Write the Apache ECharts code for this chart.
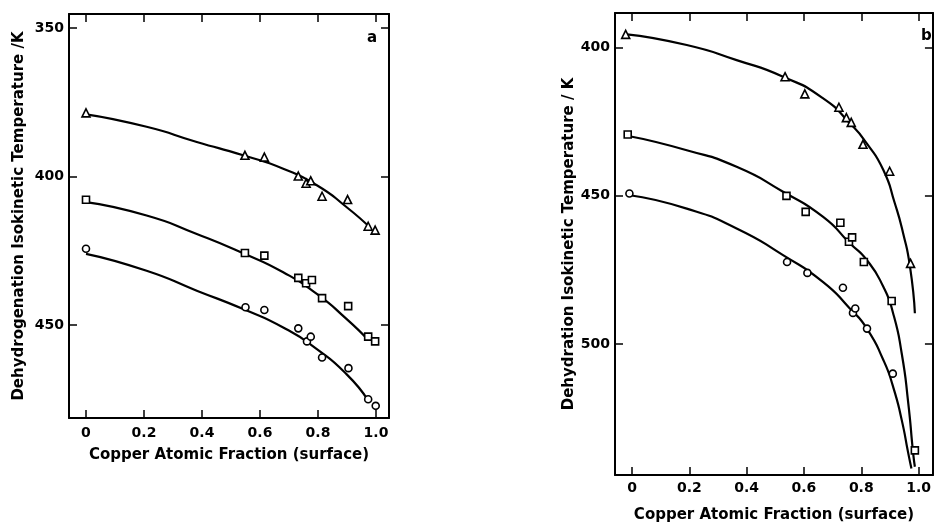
<!DOCTYPE html>
<html>
<head>
<meta charset="utf-8">
<script src="https://cdn.jsdelivr.net/npm/echarts@6/dist/echarts.min.js"></script>
<style>
  html, body { margin: 0; padding: 0; background: #fff; }
  #chartBox { width: 934px; height: 528px; }
</style>
</head>
<body>
<div id="chartBox"></div>
<script>
// tick values
const xTicks = [0, 0.2, 0.4, 0.6, 0.8, 1.0];
const yTicksA = [350, 400, 450];
const yTicksB = [400, 450, 500];

// panel a - dehydrogenation, measured points
const triAx = [0, 0.548, 0.615, 0.732, 0.759, 0.775, 0.814, 0.902, 0.973, 0.997];
const triAy = [378.5, 392.8, 393.4, 399.8, 402.2, 401.4, 406.6, 407.7, 416.7, 418.0];
const sqAx = [0, 0.548, 0.615, 0.732, 0.759, 0.779, 0.814, 0.904, 0.973, 0.997];
const sqAy = [407.8, 425.7, 426.6, 434.1, 435.9, 434.8, 440.9, 443.6, 453.9, 455.5];
const cirAx = [0, 0.55, 0.615, 0.732, 0.762, 0.775, 0.814, 0.905, 0.973, 0.999];
const cirAy = [424.3, 444.0, 444.9, 451.1, 455.5, 453.9, 460.9, 464.5, 475.0, 477.2];

// panel a - fitted curves
const fitTriAx = [0, 0.209, 0.382, 0.542, 0.680, 0.796, 0.899, 0.98];
const fitTriAy = [379.0, 383.2, 388.3, 392.8, 397.3, 402.9, 410.3, 417.2];
const fitSqAx = [0, 0.209, 0.382, 0.542, 0.680, 0.796, 0.899, 0.97];
const fitSqAy = [408.6, 413.1, 419.3, 425.8, 432.2, 439.5, 448.0, 454.7];
const fitCirAx = [0, 0.209, 0.382, 0.542, 0.680, 0.796, 0.899, 0.97];
const fitCirAy = [426.0, 431.7, 438.4, 444.6, 450.8, 458.1, 466.6, 475.0];

// panel b - dehydration, measured points
const triBx = [-0.022, 0.534, 0.603, 0.722, 0.748, 0.765, 0.806, 0.899, 0.972];
const triBy = [395.5, 409.8, 415.6, 420.1, 423.6, 425.2, 432.6, 441.7, 472.8];
const sqBx = [-0.015, 0.539, 0.606, 0.727, 0.757, 0.768, 0.809, 0.906, 0.987];
const sqBy = [429.3, 450.0, 455.4, 459.1, 465.5, 464.0, 472.3, 485.5, 535.9];
const cirBx = [-0.009, 0.541, 0.612, 0.736, 0.771, 0.779, 0.82, 0.91];
const cirBy = [449.2, 472.3, 476.0, 481.0, 489.5, 488.0, 494.8, 510.0];

// panel b - fitted curves
const fitTriBx = [-0.018, 0.191, 0.365, 0.527, 0.667, 0.760, 0.819, 0.877, 0.917, 0.946, 0.970, 0.987];
const fitTriBy = [395.5, 399.1, 404.2, 409.8, 417.1, 425.5, 432.3, 441.3, 452.5, 462.6, 473.9, 489.6];
const fitSqBx = [-0.013, 0.191, 0.365, 0.527, 0.667, 0.760, 0.819, 0.877, 0.911, 0.941, 0.964, 0.981, 0.987];
const fitSqBy = [429.8, 434.6, 440.2, 448.6, 457.1, 466.0, 471.6, 480.7, 489.6, 503.1, 520.0, 536.9, 541.4];
const fitCirBx = [-0.007, 0.191, 0.365, 0.527, 0.667, 0.760, 0.819, 0.877, 0.911, 0.941, 0.964, 0.975];
const fitCirBy = [449.8, 454.3, 461.0, 470.0, 479.1, 488.0, 494.7, 505.4, 514.4, 525.6, 536.9, 542.0];

function zip(xs, ys) {
  return xs.map((x, i) => [x, ys[i]]);
}

const font = "DejaVu Sans";
const black = "#000";

function mainX(grid, min, max, labelMargin, name, nameGap) {
  return {
    type: "value", gridIndex: grid, position: "bottom", min: min, max: max,
    axisLine: { onZero: false, lineStyle: { color: black, width: 2 } },
    axisTick: { inside: true, length: 8, lineStyle: { color: black, width: 1.5 }, customValues: xTicks },
    axisLabel: {
      customValues: xTicks, margin: labelMargin, color: black, fontFamily: font,
      fontSize: 14, fontWeight: "bold",
      formatter: (v) => (v === 0 ? "0" : v.toFixed(1)),
    },
    splitLine: { show: false },
    name: name, nameLocation: "middle", nameGap: nameGap,
    nameTextStyle: { color: black, fontFamily: font, fontSize: 15, fontWeight: "bold" },
  };
}
function topX(grid, min, max) {
  return {
    type: "value", gridIndex: grid, position: "top", min: min, max: max,
    axisLine: { onZero: false, lineStyle: { color: black, width: 2 } },
    axisTick: { inside: true, length: 8, lineStyle: { color: black, width: 1.5 }, customValues: xTicks },
    axisLabel: { show: false },
    splitLine: { show: false },
  };
}
function mainY(grid, min, max, ticks, name, nameGap) {
  return {
    type: "value", gridIndex: grid, position: "left", inverse: true, min: min, max: max,
    axisLine: { onZero: false, lineStyle: { color: black, width: 2 } },
    axisTick: { inside: true, length: 8, lineStyle: { color: black, width: 1.5 }, customValues: ticks },
    axisLabel: {
      customValues: ticks, margin: 5, color: black, fontFamily: font,
      fontSize: 14, fontWeight: "bold",
    },
    splitLine: { show: false },
    name: name, nameLocation: "middle", nameGap: nameGap,
    nameTextStyle: { color: black, fontFamily: font, fontSize: 15, fontWeight: "bold" },
  };
}
function rightY(grid, min, max, ticks) {
  return {
    type: "value", gridIndex: grid, position: "right", inverse: true, min: min, max: max,
    axisLine: { onZero: false, lineStyle: { color: black, width: 2 } },
    axisTick: { inside: true, length: 8, lineStyle: { color: black, width: 1.5 }, customValues: ticks },
    axisLabel: { show: false },
    splitLine: { show: false },
  };
}

function pts(xi, yi, data, symbol, size) {
  return {
    type: "scatter", xAxisIndex: xi, yAxisIndex: yi, data: data,
    symbol: symbol, symbolSize: size, z: 5,
    itemStyle: { color: "#fff", opacity: 1, borderColor: black, borderWidth: 1.6 },
  };
}
function fit(xi, yi, data) {
  return {
    type: "line", xAxisIndex: xi, yAxisIndex: yi, data: data,
    smooth: 0.6, showSymbol: false, z: 3,
    lineStyle: { color: black, width: 2.2 },
  };
}

const chart = echarts.init(document.getElementById("chartBox"));
const option = {
  animation: false,
  backgroundColor: "#fff",
  title: [
    { text: "a", left: 362, top: 26, textStyle: { fontFamily: font, fontSize: 15, fontWeight: "bold", color: black } },
    { text: "b", left: 916, top: 24, textStyle: { fontFamily: font, fontSize: 15, fontWeight: "bold", color: black } },
  ],
  grid: [
    { left: 69, top: 14, width: 320, height: 404 },
    { left: 615, top: 13, width: 318, height: 462 },
  ],
  xAxis: [
    mainX(0, -0.0586, 1.0448, 8, "Copper Atomic Fraction (surface)", 30),
    topX(0, -0.0586, 1.0448),
    mainX(1, -0.0593, 1.050, 6, "Copper Atomic Fraction (surface)", 33),
    topX(1, -0.0593, 1.050),
  ],
  yAxis: [
    mainY(0, 345.2, 481.3, yTicksA, "Dehydrogenation Isokinetic Temperature /K", 42),
    rightY(0, 345.2, 481.3, yTicksA),
    mainY(1, 388.3, 544.2, yTicksB, "Dehydration Isokinetic Temperature / K", 38),
    rightY(1, 388.3, 544.2, yTicksB),
  ],
  series: [
    fit(0, 0, zip(fitTriAx, fitTriAy)),
    fit(0, 0, zip(fitSqAx, fitSqAy)),
    fit(0, 0, zip(fitCirAx, fitCirAy)),
    pts(0, 0, zip(triAx, triAy), "triangle", 8),
    pts(0, 0, zip(sqAx, sqAy), "rect", 7),
    pts(0, 0, zip(cirAx, cirAy), "circle", 7),
    fit(2, 2, zip(fitTriBx, fitTriBy)),
    fit(2, 2, zip(fitSqBx, fitSqBy)),
    fit(2, 2, zip(fitCirBx, fitCirBy)),
    pts(2, 2, zip(triBx, triBy), "triangle", 8),
    pts(2, 2, zip(sqBx, sqBy), "rect", 7),
    pts(2, 2, zip(cirBx, cirBy), "circle", 7),
  ],
};
option && chart.setOption(option);
</script>
</body>
</html>
